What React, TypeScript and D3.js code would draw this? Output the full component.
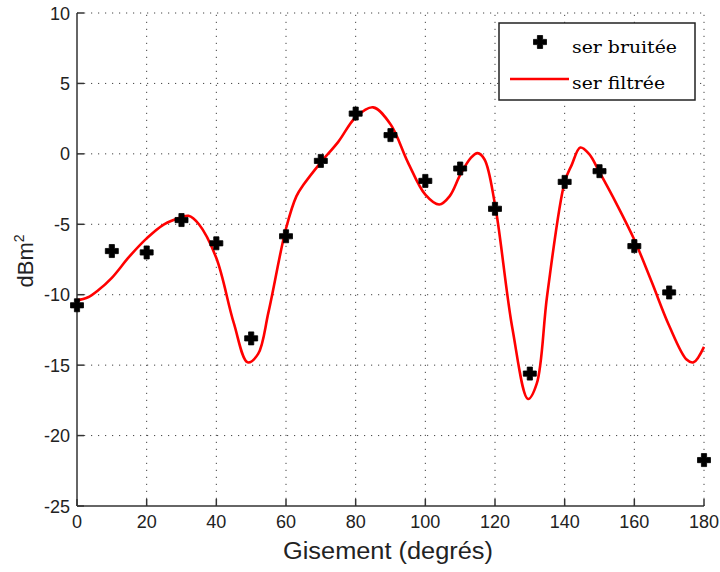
import React from "react";
import * as d3 from "d3";

const noisyX = [0, 10, 20, 30, 40, 50, 60, 70, 80, 90, 100, 110, 120, 130, 140, 150, 160, 170, 180];
const noisyY = [-10.75, -6.9, -7.0, -4.7, -6.35, -13.1, -5.85, -0.5, 2.86, 1.33, -1.92, -1.04, -3.9, -15.6, -1.99, -1.23, -6.55, -9.84, -21.74];

const filtX = [0, 3, 6, 10, 15, 20, 25, 30, 32, 35, 40, 45, 49, 52, 55, 60, 63, 65, 70, 75, 80, 85, 90, 95, 100, 104, 107, 110, 113, 115, 117, 120, 125, 129.5, 132, 135, 140, 142, 144.5, 147, 150, 155, 160, 165, 170, 175, 177, 180];
const filtY = [-10.4, -10.2, -9.7, -8.8, -7.3, -6.0, -5.0, -4.5, -4.4, -5.0, -7.4, -12.0, -14.8, -14.2, -11.2, -5.3, -3.0, -2.2, -0.6, 0.85, 2.6, 3.3, 2.1, -0.6, -2.9, -3.6, -3.0, -1.5, -0.3, 0.05, -0.4, -3.6, -12.4, -17.4, -16.3, -10.0, -2.0, -0.8, 0.45, 0.0, -1.3, -3.6, -6.1, -9.1, -12.2, -14.6, -14.8, -13.7];

const xTicks = [0, 20, 40, 60, 80, 100, 120, 140, 160, 180];
const yTicks = [-25, -20, -15, -10, -5, 0, 5, 10];
const legendLabels = ["ser bruitée", "ser filtrée"];

const W = 720, H = 572;
const L = 77, R = 704, T = 13, B = 506;

function Plus({ x, y }: { x: number; y: number }) {
  const a = 6.5, w = 2.6;
  const d = `M${x - w},${y - a}H${x + w}V${y - w}H${x + a}V${y + w}H${x + w}V${y + a}H${x - w}V${y + w}H${x - a}V${y - w}H${x - w}Z`;
  return <path d={d} fill="#000" stroke="#000" strokeWidth={0.8} strokeLinejoin="round" />;
}

export default function App() {
  const x = d3.scaleLinear().domain([0, 180]).range([L, R]);
  const y = d3.scaleLinear().domain([-25, 10]).range([B, T]);
  const line = d3
    .line<number>()
    .x((_, i) => x(filtX[i]))
    .y((d) => y(d))
    .curve(d3.curveCatmullRom.alpha(0.5));
  const tickFont = "'Liberation Sans', Arial, sans-serif";
  return (
    <svg width={W} height={H} style={{ position: "absolute", left: 0, top: 0, background: "#fff" }}>
      <rect x={0} y={0} width={W} height={H} fill="#fff" />
      {/* grid */}
      {xTicks.filter((t) => t !== 0).map((t) => (
        <line key={"gx" + t} x1={x(t)} x2={x(t)} y1={B} y2={T} stroke="#444" strokeWidth={1} strokeDasharray="1.2,5.8" />
      ))}
      {yTicks.filter((t) => t !== -25).map((t) => (
        <line key={"gy" + t} x1={L} x2={R} y1={y(t)} y2={y(t)} stroke="#444" strokeWidth={1} strokeDasharray="1.2,5.8" />
      ))}
      {/* axes */}
      <line x1={L} x2={L} y1={T} y2={B} stroke="#333" strokeWidth={1.5} />
      <line x1={L} x2={R} y1={B} y2={B} stroke="#333" strokeWidth={1.5} />
      {yTicks.map((t) => (
        <g key={"ty" + t}>
          <line x1={L} x2={L + 7} y1={y(t)} y2={y(t)} stroke="#333" strokeWidth={1.5} />
          <text x={70} y={y(t) + 6.5} textAnchor="end" fontFamily={tickFont} fontSize={18} fill="#222">{t}</text>
        </g>
      ))}
      {xTicks.map((t) => (
        <g key={"tx" + t}>
          <line x1={x(t)} x2={x(t)} y1={B} y2={B - 7} stroke="#333" strokeWidth={1.5} />
          <text x={x(t)} y={528} textAnchor="middle" fontFamily={tickFont} fontSize={18} fill="#222">{t}</text>
        </g>
      ))}
      {/* labels */}
      <text x={388} y={559} textAnchor="middle" fontFamily={tickFont} fontSize={23} fill="#222" textLength={210} lengthAdjust="spacingAndGlyphs">Gisement (degrés)</text>
      <text transform="translate(33,261) rotate(-90)" textAnchor="middle" fontFamily={tickFont} fontSize={22} fill="#222">
        dBm<tspan fontSize={14} dy={-9}>2</tspan>
      </text>
      {/* filtered line */}
      <path d={line(filtY) || ""} fill="none" stroke="#ff0000" strokeWidth={2.6} strokeLinejoin="round" />
      {/* noisy points */}
      {noisyY.map((v, i) => (
        <Plus key={"p" + i} x={x(noisyX[i])} y={y(v)} />
      ))}
      {/* legend */}
      <rect x={499} y={23} width={196} height={77} fill="#fff" stroke="#222" strokeWidth={1.5} />
      <Plus x={540} y={42} />
      <line x1={510} x2={569} y1={79} y2={79} stroke="#ff0000" strokeWidth={2.6} />
      <text x={572} y={53} fontFamily="'DejaVu Serif', serif" fontSize={16} fill="#000" textLength={105} lengthAdjust="spacingAndGlyphs">{legendLabels[0]}</text>
      <text x={572} y={89} fontFamily="'DejaVu Serif', serif" fontSize={16} fill="#000" textLength={93} lengthAdjust="spacingAndGlyphs">{legendLabels[1]}</text>
    </svg>
  );
}
